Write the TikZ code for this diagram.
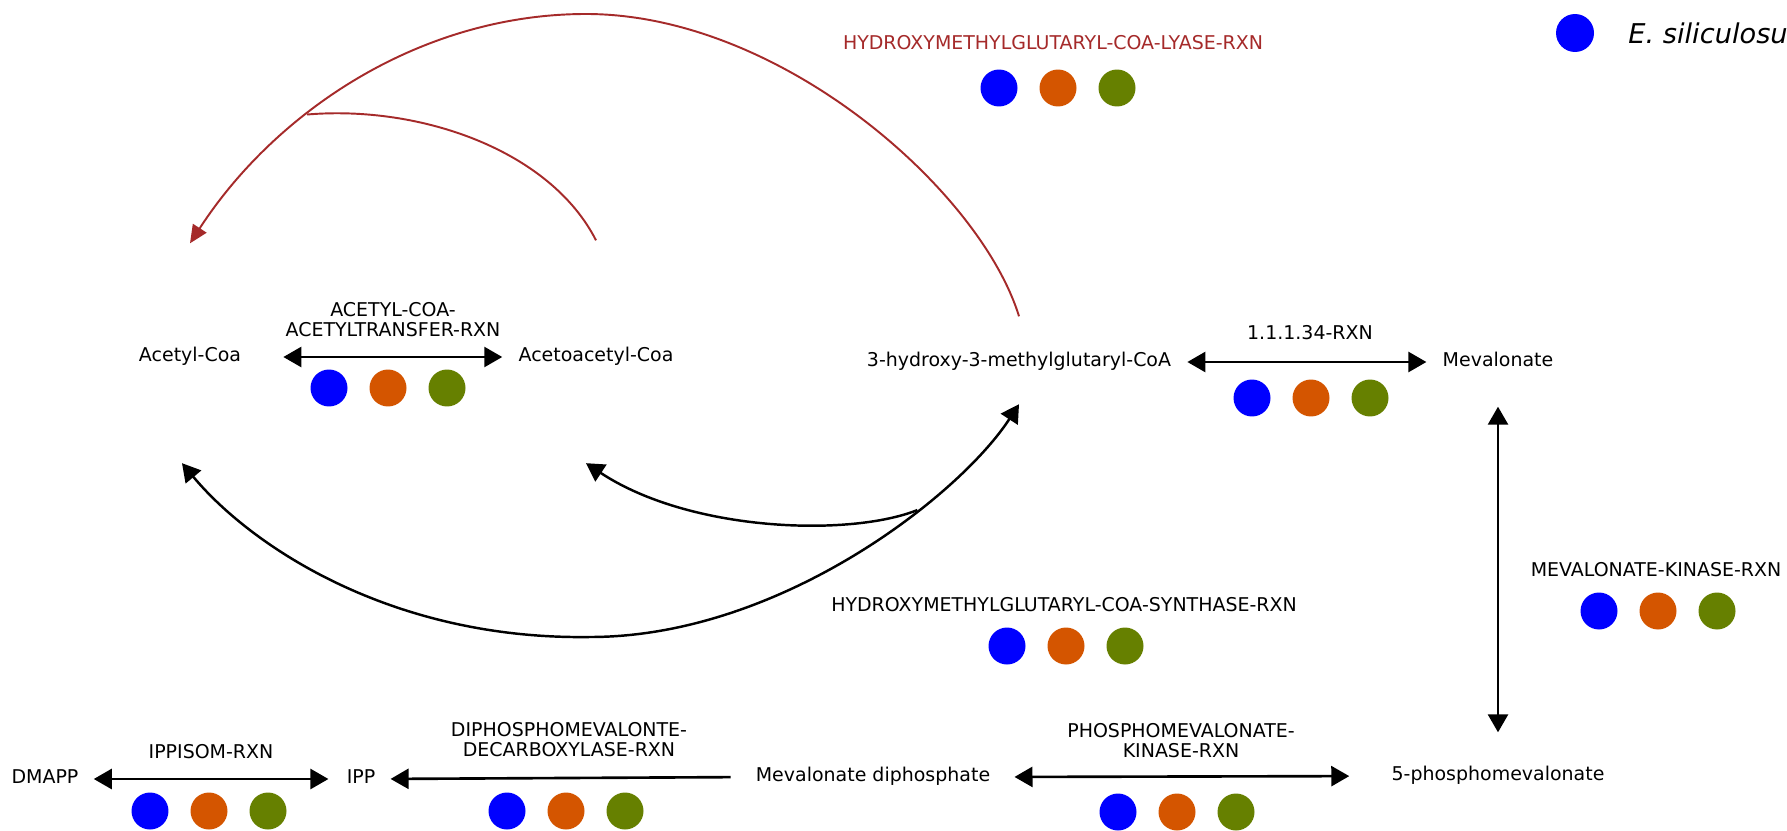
\documentclass[tikz,border=0pt]{standalone}
\usepackage{fontspec}
\setmainfont{DejaVu Sans}
\usetikzlibrary{arrows.meta}

\definecolor{dotblue}{RGB}{0,0,255}
\definecolor{dotorange}{RGB}{212,85,0}
\definecolor{dotgreen}{RGB}{102,128,0}
\definecolor{lyasered}{RGB}{165,42,42}

\begin{document}
\begin{tikzpicture}[x=0.02cm,y=-0.02cm,
compound/.style={inner sep=0pt, text height=0.75em, text depth=0.2em, font=\fontsize{10.8}{11.4}\selectfont},
rxnlabel/.style={inner sep=0pt, align=center, font=\fontsize{10.8}{11.4}\selectfont},
bluedot/.style={circle, fill=dotblue, minimum size=0.74cm, inner sep=0pt},
orangedot/.style={circle, fill=dotorange, minimum size=0.74cm, inner sep=0pt},
greendot/.style={circle, fill=dotgreen, minimum size=0.74cm, inner sep=0pt},
reaction/.style={<->, line width=1.5pt},
pathcurve/.style={line width=1.4pt},
lyasecurve/.style={draw=lyasered, line width=1.1pt},
>={Triangle[length=0.36cm,width=0.4cm]}
]
\useasboundingbox (0,0) rectangle (1787,831);
\clip (0,0) rectangle (1787,831);
\fill[white] (0,0) rectangle (1787,831);

%Compounds
\node[compound] (ACETYL) at (190,357) {Acetyl-Coa};
\node[compound] (ACETOACETYL) at (596,357) {Acetoacetyl-Coa};
\node[compound] (HMGCOA) at (1019,362) {3-hydroxy-3-methylglutaryl-CoA};
\node[compound] (MEV) at (1498,362) {Mevalonate};
\node[compound] (PMEV) at (1498,776) {5-phosphomevalonate};
\node[compound] (MEVPP) at (873,777) {Mevalonate diphosphate};
\node[compound] (IPP) at (361,779) {IPP};
\node[compound] (DMAPP) at (45,779) {DMAPP};

%Reactions
\node[rxnlabel] (ACETYLTRANS) at (393,320) {ACETYL-COA-\\ACETYLTRANSFER-RXN};
\node[rxnlabel, text=lyasered] (HMGLYASE) at (1053,43) {HYDROXYMETHYLGLUTARYL-COA-LYASE-RXN};
\node[rxnlabel] (HMGRED) at (1310,333) {1.1.1.34-RXN};
\node[rxnlabel] (MEVKIN) at (1656,570) {MEVALONATE-KINASE-RXN};
\node[rxnlabel] (HMGSYN) at (1064,605) {HYDROXYMETHYLGLUTARYL-COA-SYNTHASE-RXN};
\node[rxnlabel] (PMEVKIN) at (1181,741) {PHOSPHOMEVALONATE-\\KINASE-RXN};
\node[rxnlabel] (MEVPPDEC) at (569,740) {DIPHOSPHOMEVALONTE-\\DECARBOXYLASE-RXN};
\node[rxnlabel] (IPPISOM) at (211,752) {IPPISOM-RXN};

%Organism dots
\foreach \n/\x/\y in {ACETYLTRANS/388/388, HMGLYASE/1058/88, HMGRED/1311/398, MEVKIN/1658/611,
  HMGSYN/1066/646, PMEVKIN/1177/812, MEVPPDEC/566/811, IPPISOM/209/811}{
  \node[bluedot] (\n-b) at (\x-59,\y) {};
  \node[orangedot] (\n-o) at (\x,\y) {};
  \node[greendot] (\n-g) at (\x+59,\y) {};
}

%Legend
\node[bluedot, minimum size=0.76cm] (LEGEND-b) at (1575,33) {};
\node[anchor=west, inner sep=0pt, font=\fontsize{15.5}{18}\selectfont\itshape] (LEGEND) at (1628,33) {E. siliculosus};

%Lines
\draw[reaction, shorten <=0.84cm, shorten >=0.32cm] (ACETYL.east) -- (ACETOACETYL.west);
\draw[reaction, shorten <=0.32cm, shorten >=0.32cm] (HMGCOA.east) -- (MEV.west);
\draw[reaction, shorten <=0.72cm, shorten >=0.7cm] (MEV.south) -- (PMEV.north);
\draw[reaction, shorten <=0.48cm, shorten >=0.84cm] (MEVPP.east) -- (PMEV.west);
\draw[reaction, ->, shorten <=0.5cm, shorten >=0.3cm] (MEVPP.west) -- (IPP.east);
\draw[reaction, shorten <=0.36cm, shorten >=0.3cm] (IPP.west) -- (DMAPP.east);

%Synthase curves
\draw[pathcurve, <->] ([xshift=-0.16cm,yshift=-1.95cm]ACETYL.south) .. controls (250,545) and (390,640) .. (590,637)
  .. controls (780,637) and (960,495) .. coordinate[pos=0.65] (SYNJ) ([yshift=-0.67cm]HMGCOA.south);
\draw[pathcurve, ->] (SYNJ) .. controls (850,537) and (690,532) .. ([xshift=-0.2cm,yshift=-1.95cm]ACETOACETYL.south);

%Lyase curves
\draw[lyasecurve, -{Triangle[length=0.36cm,width=0.32cm]}] ([yshift=0.74cm]HMGCOA.north) .. controls (980,190) and (780,14) .. (586,14)
  .. controls (420,14) and (275,112) .. coordinate[pos=0.63] (LYJ) ([yshift=2.1cm]ACETYL.north);
\draw[lyasecurve] ([yshift=2.16cm]ACETOACETYL.north) .. controls (550,150) and (420,105) .. (LYJ);
\end{tikzpicture}
\end{document}
